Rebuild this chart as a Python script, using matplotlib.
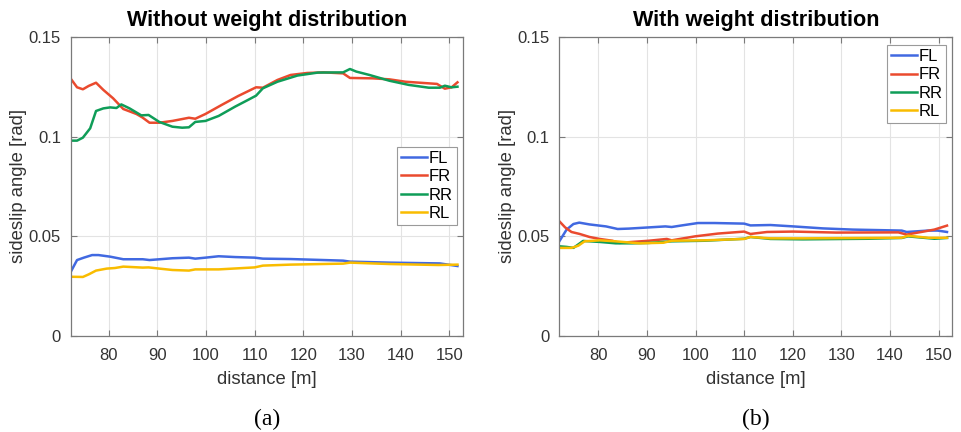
import matplotlib
matplotlib.use("Agg")
import matplotlib.pyplot as plt

# ---- data: panel (a) without weight distribution ----
a_fr_x = [72.3, 73.5, 74.7, 75.9, 77.4, 78.9, 80.9, 83.0, 85.7, 86.9, 88.4, 90.4, 93.1, 96.5, 97.8,
          99.9, 103.2, 106.6, 110.3, 111.7, 114.7, 117.4, 120.8, 124.2, 128.2, 129.6, 134.3, 137.7,
          141.0, 147.5, 149.1, 150.5, 151.7]
a_fr_y = [0.1288, 0.1248, 0.1238, 0.1255, 0.1271, 0.1235, 0.1193, 0.1139, 0.1114, 0.1097, 0.1070,
          0.1070, 0.1079, 0.1095, 0.1090, 0.1114, 0.1159, 0.1204, 0.1248, 0.1246, 0.1285, 0.1310,
          0.1320, 0.1323, 0.1318, 0.1295, 0.1293, 0.1288, 0.1276, 0.1265, 0.1241, 0.1248, 0.1273]
a_rr_x = [72.3, 73.5, 74.7, 76.2, 77.4, 78.9, 80.3, 81.6, 82.6, 84.3, 86.7, 88.2, 90.4, 93.1, 95.1,
          96.5, 97.8, 99.9, 102.6, 106.0, 108.6, 110.3, 111.7, 114.7, 118.8, 123.0, 128.2, 129.6,
          130.9, 133.6, 137.7, 141.7, 145.8, 148.1, 149.1, 150.5, 151.7]
a_rr_y = [0.0980, 0.0980, 0.0995, 0.1042, 0.1129, 0.1142, 0.1147, 0.1144, 0.1162, 0.1142, 0.1107,
          0.1109, 0.1074, 0.1050, 0.1045, 0.1047, 0.1074, 0.1079, 0.1104, 0.1151, 0.1184, 0.1206,
          0.1243, 0.1276, 0.1307, 0.1322, 0.1323, 0.1340, 0.1327, 0.1310, 0.1281, 0.1260, 0.1246,
          0.1246, 0.1256, 0.1248, 0.1251]
a_fl_x = [72.3, 73.5, 74.9, 76.6, 77.9, 80.3, 83.0, 87.0, 88.4, 93.1, 96.5, 97.8, 99.9, 102.6, 106.0,
          110.0, 111.7, 117.4, 128.2, 129.6, 137.7, 148.1, 151.7]
a_fl_y = [0.0325, 0.0380, 0.0392, 0.0405, 0.0405, 0.0397, 0.0384, 0.0384, 0.0380, 0.0389, 0.0392,
          0.0387, 0.0392, 0.0399, 0.0395, 0.0392, 0.0387, 0.0385, 0.0377, 0.0372, 0.0367, 0.0363,
          0.0350]
a_rl_x = [72.3, 74.7, 75.9, 77.4, 79.6, 81.3, 83.0, 87.0, 88.2, 90.4, 93.1, 96.5, 97.8, 102.6, 110.0,
          111.7, 117.4, 128.2, 129.6, 137.7, 147.8, 151.7]
a_rl_y = [0.0296, 0.0295, 0.0308, 0.0327, 0.0337, 0.0340, 0.0347, 0.0342, 0.0343, 0.0337, 0.0330,
          0.0327, 0.0333, 0.0333, 0.0343, 0.0352, 0.0357, 0.0362, 0.0367, 0.0360, 0.0355, 0.0357]

# ---- data: panel (b) with weight distribution ----
b_fl_x = [72.0, 73.5, 74.9, 76.1, 78.2, 81.6, 84.0, 86.3, 90.4, 93.8, 95.1, 97.2, 100.5, 103.9, 110.0,
          111.3, 115.4, 120.1, 126.2, 132.3, 142.4, 143.4, 147.8, 149.8, 151.7]
b_fl_y = [0.0474, 0.0533, 0.0561, 0.0568, 0.0559, 0.0549, 0.0536, 0.0538, 0.0544, 0.0549, 0.0546,
          0.0554, 0.0566, 0.0566, 0.0563, 0.0554, 0.0556, 0.0549, 0.0539, 0.0533, 0.0528, 0.0521,
          0.0528, 0.0528, 0.0521]
b_fr_x = [72.0, 73.2, 74.5, 76.2, 78.2, 80.3, 82.9, 84.3, 87.0, 90.4, 94.1, 95.1, 99.9, 104.6, 110.0,
          111.3, 114.7, 120.1, 128.9, 141.7, 143.4, 146.4, 149.1, 151.7]
b_fr_y = [0.0575, 0.0544, 0.0521, 0.0511, 0.0496, 0.0486, 0.0477, 0.0466, 0.0471, 0.0477, 0.0486,
          0.0479, 0.0499, 0.0513, 0.0523, 0.0511, 0.0521, 0.0523, 0.0518, 0.0519, 0.0508, 0.0521,
          0.0533, 0.0553]
b_rr_x = [72.0, 73.5, 74.9, 76.9, 80.3, 83.6, 87.0, 90.4, 95.1, 101.9, 110.0, 111.3, 115.4, 122.1,
          135.6, 142.4, 143.7, 149.1, 151.7]
b_rr_y = [0.0449, 0.0446, 0.0441, 0.0476, 0.0471, 0.0464, 0.0464, 0.0466, 0.0474, 0.0477, 0.0487,
          0.0496, 0.0486, 0.0484, 0.0487, 0.0491, 0.0499, 0.0487, 0.0491]
b_rl_x = [72.0, 74.5, 75.9, 77.2, 80.3, 83.6, 88.4, 93.4, 95.1, 101.9, 110.0, 111.3, 115.4, 122.1,
          135.6, 142.4, 143.7, 147.8, 151.7]
b_rl_y = [0.0441, 0.0441, 0.0452, 0.0474, 0.0479, 0.0474, 0.0464, 0.0467, 0.0477, 0.0479, 0.0486,
          0.0496, 0.0489, 0.0489, 0.0491, 0.0492, 0.0502, 0.0492, 0.0492]

titles = ["Without weight distribution", "With weight distribution"]
captions = ["(a)", "(b)"]
labels = ["FL", "FR", "RR", "RL"]
colors = ["#4169E1", "#EA4A2E", "#0F9D58", "#F9BC00"]
x_ticks = [80, 90, 100, 110, 120, 130, 140, 150]
y_ticks = [0, 0.05, 0.1, 0.15]
y_ticklabels = ["0", "0.05", "0.1", "0.15"]

panels = [
    [(a_fl_x, a_fl_y), (a_fr_x, a_fr_y), (a_rr_x, a_rr_y), (a_rl_x, a_rl_y)],
    [(b_fl_x, b_fl_y), (b_fr_x, b_fr_y), (b_rr_x, b_rr_y), (b_rl_x, b_rl_y)],
]

plt.rcParams['font.family'] = ['Liberation Sans', 'DejaVu Sans']

fig = plt.figure(figsize=(9.61, 4.32), dpi=100)
rects = [[0.0736, 0.223, 0.408, 0.691], [0.582, 0.223, 0.409, 0.691]]
legend_locs = [(0.985, 0.633), (0.985, 0.974)]
xlims = [(72.2, 152.8), (72.0, 152.8)]

for i, (rect, series) in enumerate(zip(rects, panels)):
    ax = fig.add_axes(rect)
    for (xs, ys), lab, col in zip(series, labels, colors):
        ax.plot(xs, ys, color=col, lw=1.8, label=lab)
    ax.set_xlim(*xlims[i])
    ax.set_ylim(0, 0.15)
    ax.set_xticks(x_ticks)
    ax.set_yticks(y_ticks)
    ax.set_yticklabels(y_ticklabels)
    ax.grid(True, color="#e3e3e3", lw=0.8)
    ax.set_axisbelow(True)
    ax.tick_params(direction="in", length=4, labelsize=12, color="#7a7a7a",
                   labelcolor="#333333", top=True, right=True)
    ax.tick_params(axis="x", pad=9)
    ax.tick_params(axis="y", pad=7)
    for s in ax.spines.values():
        s.set_color("#7a7a7a")
        s.set_linewidth(0.9)
    ax.set_title(titles[i], fontsize=15.6, fontweight="bold", pad=8)
    ax.set_xlabel("distance [m]", fontsize=13.3, color="#333333", labelpad=6)
    ax.set_ylabel("sideslip angle [rad]", fontsize=13.3, color="#333333")
    ax.yaxis.set_label_coords(-0.111, 0.5)
    leg = ax.legend(loc="upper right", bbox_to_anchor=legend_locs[i], fontsize=12,
                    fancybox=False, edgecolor="#9a9a9a", framealpha=1,
                    handlelength=1.55, handletextpad=0.1, borderpad=0.25,
                    labelspacing=0.2, borderaxespad=0.0)
    leg.get_frame().set_linewidth(0.8)
    fig.text(rect[0] + rect[2] / 2, (432 - 419) / 432, captions[i], ha="center", va="center",
             fontsize=17, family=["Liberation Serif", "DejaVu Serif"])

fig.savefig("out.png", dpi=100)
